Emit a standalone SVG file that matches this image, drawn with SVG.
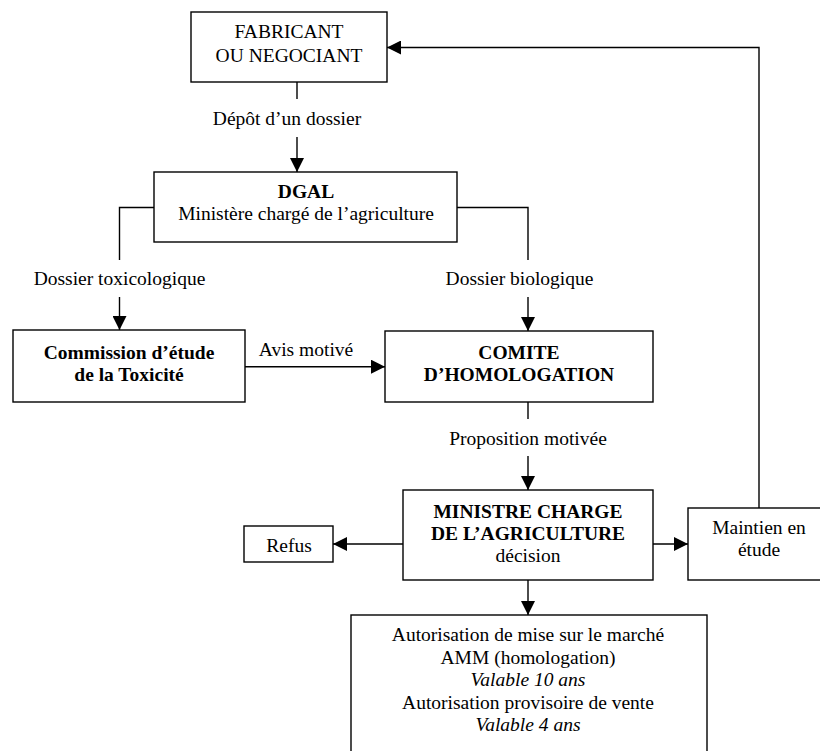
<svg xmlns="http://www.w3.org/2000/svg" width="820" height="751" viewBox="0 0 820 751">
<defs>
<style>
.box{fill:#fff;stroke:#000;stroke-width:1.4}
.ln{fill:none;stroke:#000;stroke-width:1.4}
text{font-family:"Liberation Serif","Times New Roman",serif;font-size:19.5px;fill:#000;text-anchor:middle}
.b{font-weight:bold}
.i{font-style:italic}
</style>
<marker id="ah" markerUnits="userSpaceOnUse" markerWidth="15" markerHeight="14" refX="14" refY="7" orient="auto"><path d="M0,0 L14,7 L0,14 z" fill="#000"/></marker>
</defs>
<rect width="820" height="751" fill="#fff"/>
<g id="connectors">
<line class="ln" x1="297" y1="82" x2="297" y2="99"/>
<text x="287" y="124.5">Dépôt d’un dossier</text>
<line class="ln" x1="297" y1="137" x2="297" y2="172" marker-end="url(#ah)"/>
<polyline class="ln" points="154,207.5 119.5,207.5 119.5,260"/>
<text x="119.5" y="285">Dossier toxicologique</text>
<line class="ln" x1="119.5" y1="297" x2="119.5" y2="330" marker-end="url(#ah)"/>
<polyline class="ln" points="457,207.5 528,207.5 528,260"/>
<text x="519.5" y="285">Dossier biologique</text>
<line class="ln" x1="528" y1="297" x2="528" y2="331" marker-end="url(#ah)"/>
<line class="ln" x1="245" y1="366.7" x2="385" y2="366.7" marker-end="url(#ah)"/>
<text x="306" y="356">Avis motivé</text>
<line class="ln" x1="528" y1="402" x2="528" y2="419"/>
<text x="528" y="445">Proposition motivée</text>
<line class="ln" x1="528" y1="456" x2="528" y2="490" marker-end="url(#ah)"/>
<line class="ln" x1="403" y1="544" x2="333" y2="544" marker-end="url(#ah)"/>
<line class="ln" x1="653" y1="544" x2="688" y2="544" marker-end="url(#ah)"/>
<line class="ln" x1="528" y1="580" x2="528" y2="615" marker-end="url(#ah)"/>
<polyline class="ln" points="759,508 759,47.5 387,47.5" marker-end="url(#ah)"/>
</g>
<g id="fabricant">
<rect class="box" x="191" y="12" width="196" height="70"/>
<text x="289" y="37.5">FABRICANT</text>
<text x="289" y="61.5">OU NEGOCIANT</text>
</g>
<g id="dgal">
<rect class="box" x="154" y="172" width="303" height="70"/>
<text class="b" x="306" y="198">DGAL</text>
<text x="306" y="220">Ministère chargé de l’agriculture</text>
</g>
<g id="commission">
<rect class="box" x="13" y="330" width="232" height="72"/>
<text class="b" x="129" y="359">Commission d’étude</text>
<text class="b" x="129" y="381">de la Toxicité</text>
</g>
<g id="comite">
<rect class="box" x="385" y="331" width="268" height="71"/>
<text class="b" x="519" y="358.5">COMITE</text>
<text class="b" x="519" y="381">D’HOMOLOGATION</text>
</g>
<g id="ministre">
<rect class="box" x="403" y="490" width="250" height="90"/>
<text class="b" x="528" y="517.5">MINISTRE CHARGE</text>
<text class="b" x="528" y="540">DE L’AGRICULTURE</text>
<text x="528" y="562">décision</text>
</g>
<g id="refus">
<rect class="box" x="244" y="526" width="89" height="36"/>
<text x="289" y="551.5">Refus</text>
</g>
<g id="maintien">
<rect class="box" x="688" y="508" width="142" height="72"/>
<text x="759" y="534">Maintien en</text>
<text x="759" y="556">étude</text>
</g>
<g id="amm">
<rect class="box" x="351" y="615" width="356" height="150"/>
<text x="528" y="641">Autorisation de mise sur le marché</text>
<text x="528" y="663.5">AMM (homologation)</text>
<text class="i" x="528" y="686">Valable 10 ans</text>
<text x="528" y="708.5">Autorisation provisoire de vente</text>
<text class="i" x="528" y="731">Valable 4 ans</text>
</g>
</svg>
